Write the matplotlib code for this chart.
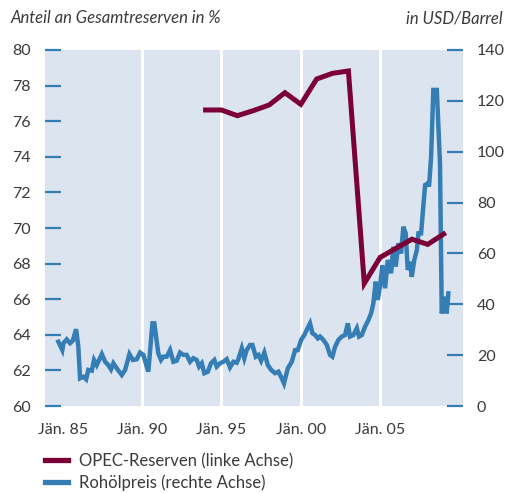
import matplotlib
matplotlib.use("Agg")
import matplotlib.pyplot as plt
from matplotlib.lines import Line2D

plt.rcParams['font.family'] = ['Lato', 'DejaVu Sans']

# ---- data ----
opec_years = [1994, 1995, 1996, 1997, 1998, 1999, 2000, 2001, 2002, 2003,
              2004, 2005, 2006, 2007, 2008, 2009]
opec_share = [76.63, 76.63, 76.31, 76.59, 76.91, 77.60, 76.95, 78.37, 78.69, 78.82,
              66.89, 68.35, 68.86, 69.37, 69.08, 69.66]

oil_time = [1984.72, 1984.97, 1985.04, 1985.25, 1985.46, 1985.63, 1985.84, 1985.98,
            1986.09, 1986.30, 1986.47, 1986.61, 1986.83, 1986.97, 1987.14, 1987.46,
            1987.67, 1987.87, 1988.04, 1988.19, 1988.40, 1988.72, 1988.93, 1989.20,
            1989.41, 1989.66, 1989.87, 1990.08, 1990.39, 1990.65, 1990.77, 1991.02,
            1991.19, 1991.34, 1991.55, 1991.76, 1991.97, 1992.18, 1992.39, 1992.60,
            1992.81, 1993.02, 1993.23, 1993.44, 1993.59, 1993.76, 1993.92, 1994.14,
            1994.34, 1994.55, 1994.70, 1994.91, 1995.12, 1995.33, 1995.54, 1995.75,
            1995.96, 1996.06, 1996.28, 1996.44, 1996.59, 1996.80, 1996.95, 1997.16,
            1997.33, 1997.50, 1997.70, 1997.92, 1998.13, 1998.38, 1998.59, 1998.80,
            1998.94, 1999.18, 1999.43, 1999.64, 1999.81, 2000.02, 2000.22, 2000.37,
            2000.58, 2000.73, 2000.90, 2001.07, 2001.21, 2001.42, 2001.64, 2001.84,
            2001.99, 2002.16, 2002.37, 2002.58, 2002.79, 2002.96, 2003.10, 2003.31,
            2003.53, 2003.67, 2003.84, 2004.05, 2004.26, 2004.43, 2004.57, 2004.72,
            2004.85, 2004.99, 2005.14, 2005.31, 2005.48, 2005.69, 2005.83, 2005.98,
            2006.15, 2006.32, 2006.46, 2006.61, 2006.74, 2006.88, 2006.99, 2007.15,
            2007.31, 2007.41, 2007.58, 2007.72, 2007.83, 2008.00, 2008.08, 2008.21,
            2008.35, 2008.57, 2008.77, 2008.88, 2009.09, 2009.19, 2009.30]
oil_price = [25.3, 22.0, 24.7, 26.2, 24.7, 25.7, 30.2, 23.3,
             10.9, 11.5, 10.5, 14.2, 13.9, 18.1, 16.1, 20.4,
             17.4, 16.1, 14.4, 16.8, 14.8, 12.2, 14.2, 20.4,
             18.1, 18.4, 21.0, 20.1, 13.5, 32.5, 32.5, 20.7,
             18.1, 19.4, 19.4, 22.0, 17.4, 17.8, 21.0, 20.1,
             20.1, 17.4, 18.8, 18.1, 15.5, 16.8, 12.9, 13.5,
             16.8, 18.1, 15.5, 16.8, 17.4, 18.4, 15.2, 17.4,
             17.0, 18.4, 22.7, 18.8, 22.0, 24.0, 24.0, 19.4,
             20.1, 17.8, 21.0, 16.1, 14.2, 12.9, 13.5, 10.9,
             8.9, 14.8, 17.4, 22.0, 22.0, 26.0, 27.9, 29.9,
             32.5, 28.6, 27.9, 26.6, 27.3, 26.0, 24.0, 20.1,
             19.4, 23.3, 26.0, 27.3, 27.9, 32.5, 27.3, 27.9,
             30.6, 27.3, 27.9, 31.2, 33.8, 36.5, 40.4, 48.9,
             41.7, 47.0, 55.4, 46.3, 57.4, 52.2, 62.6, 54.8,
             64.0, 60.0, 70.5, 67.9, 53.5, 56.7, 50.8, 57.4,
             61.3, 67.9, 67.9, 78.4, 86.9, 87.6, 86.3, 98.0,
             124.3, 124.3, 95.4, 36.4, 43.0, 36.4, 44.3]

x_tick_years = [1985, 1990, 1995, 2000, 2005]
x_tick_labels = ["Jän. 85", "Jän. 90", "Jän. 95", "Jän. 00", "Jän. 05"]
grid_years = [1990, 1995, 2000, 2005]
left_ticks = [60, 62, 64, 66, 68, 70, 72, 74, 76, 78, 80]
right_ticks = [0, 20, 40, 60, 80, 100, 120, 140]

# ---- style ----
BG = '#dbe4ef'
BLUE = '#347db5'
MAROON = '#7b0038'
TXT = '#3a3a3a'

fig = plt.figure(figsize=(5.07, 4.93), dpi=100)
ax = fig.add_axes([45/507, 1-406/493, (463-45)/507, (406-50)/493])
ax2 = ax.twinx()

# ax2 (oil) underneath with background; ax (OPEC) above
ax.set_zorder(ax2.get_zorder() + 1)
ax.patch.set_visible(False)
ax2.patch.set_facecolor(BG)
ax2.patch.set_visible(True)

for g in grid_years:
    ax2.axvline(g, color='white', lw=2.2, zorder=1)

ax2.plot(oil_time, oil_price, color=BLUE, lw=3.2, solid_joinstyle='miter', zorder=3)
ax.plot(opec_years, opec_share, color=MAROON, lw=3.6, solid_joinstyle='miter', zorder=3)

ax.set_xlim(1983.88, 2010.22)
ax.set_ylim(60, 80)
ax2.set_ylim(0, 140)

for a in (ax, ax2):
    for s in a.spines.values():
        s.set_visible(False)

ax.set_yticks(left_ticks)
ax2.set_yticks(right_ticks)
ax.tick_params(axis='y', direction='in', length=11.5, width=1.6, color=BLUE,
               labelsize=11.5, labelcolor=TXT, pad=10)
ax2.tick_params(axis='y', direction='in', length=11.5, width=1.6, color=BLUE,
                labelsize=11.5, labelcolor=TXT, pad=10)
ax.set_xticks(x_tick_years)
ax.set_xticklabels(x_tick_labels)
ax.tick_params(axis='x', length=0, labelsize=11.5, labelcolor=TXT, pad=12)

fig.text(11/507, 1-18/493, "Anteil an Gesamtreserven in %", ha='left', va='center',
         fontsize=12, style='italic', color=TXT)
fig.text(503/507, 1-18/493, "in USD/Barrel", ha='right', va='center',
         fontsize=12, style='italic', color=TXT)

handles = [Line2D([], [], color=MAROON, lw=3.8), Line2D([], [], color=BLUE, lw=3.8)]
fig.legend(handles, ["OPEC-Reserven (linke Achse)", "Rohölpreis (rechte Achse)"],
           loc='upper left', bbox_to_anchor=(45/507, 1-453/493), frameon=False,
           fontsize=12, handlelength=1.38, handletextpad=0.66, labelspacing=0.33,
           borderpad=0, borderaxespad=0, labelcolor=TXT)

fig.savefig("out.png", dpi=100)
